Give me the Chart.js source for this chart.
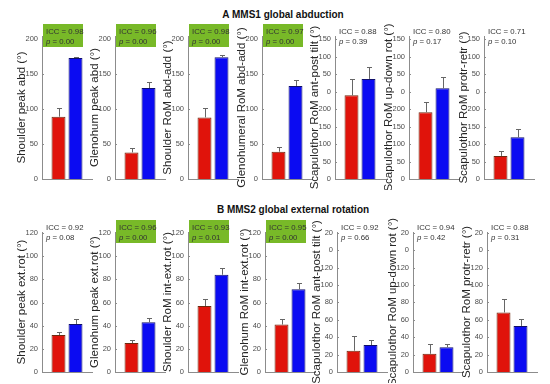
<!DOCTYPE html>
<html>
<head>
<meta charset="utf-8">
<script src="https://cdn.jsdelivr.net/npm/chart.js@4"></script>
<style>
  body { margin: 0; background: #fff; width: 550px; height: 384px; position: relative; overflow: hidden; font-family: "Liberation Sans", Arial, sans-serif; }
  canvas { position: absolute; }
  .ttl { position: absolute; font-weight: bold; font-size: 10px; color: #111; white-space: nowrap; transform: translateX(-50%); }
</style>
</head>
<body>
<div class="ttl" style="left:283px;top:9px">A MMS1 global abduction</div>
<div class="ttl" style="left:293px;top:204px">B MMS2 global external rotation</div>
<script>
// panel A: MMS1 global abduction
var titlesA = ['Shoulder peak abd (°)', 'Glenohum peak abd (°)', 'Shoulder RoM abd-add (°)', 'Glenohumeral RoM abd-add (°)',
  'Scapulothor RoM ant-post tilt (°)', 'Scapulothor RoM up-down rot (°)', 'Scapulothor RoM protr-retr (°)'];
var iccA = ['0.98', '0.96', '0.98', '0.97', '0.88', '0.80', '0.71'];
var pA = ['0.00', '0.00', '0.00', '0.00', '0.39', '0.17', '0.10'];
var sigA = [true, true, true, true, false, false, false];
var redA = [89, 38, 88, 39, 239, 191, 66];
var redErrA = [12, 7, 13, 7, 46, 28, 15];
var blueA = [173, 130, 174, 133, 286, 259, 119];
var blueErrA = [2, 8, 3, 8, 34, 33, 23];

// panel B: MMS2 global external rotation
var titlesB = ['Shoulder peak ext.rot (°)', 'Glenohum peak ext.rot (°)', 'Shoulder RoM int-ext.rot (°)', 'Glenohum RoM int-ext.rot (°)',
  'Scapulothor RoM ant-post tilt (°)', 'Scapulothor RoM up-down rot (°)', 'Scapulothor RoM protr-retr (°)'];
var iccB = ['0.92', '0.96', '0.93', '0.95', '0.92', '0.94', '0.88'];
var pB = ['0.08', '0.00', '0.01', '0.00', '0.66', '0.42', '0.31'];
var sigB = [false, true, true, true, false, false, false];
var redB = [32, 25, 57, 41, 24.5, 21, 68.5];
var redErrB = [2.5, 2.5, 6, 4.5, 17, 11, 15.5];
var blueB = [41.5, 43, 84, 71.5, 31, 28.5, 53];
var blueErrB = [4, 3.5, 6, 5.5, 6, 3.5, 8];

// tick labels as printed on the axes
var ticksA1 = ['0', '50', '100', '150', '200'];
var ticksA2 = ['0', '50', '100', '150', '200', '0', '50', '100', '150'];
var ticksB1 = ['0', '20', '40', '60', '80', '100', '120'];
var ticksB2 = ['0', '20', '40', '60', '80', '100', '120', '0', '20'];

Chart.defaults.font.family = '"Liberation Sans", Arial, sans-serif';

var axisGrey = '#8c8c8c';

var errPlugin = {
  id: 'errbars',
  afterDatasetsDraw: function (chart) {
    var ctx = chart.ctx, y = chart.scales.y;
    ctx.save();
    ctx.strokeStyle = '#666';
    ctx.lineWidth = 1;
    chart.data.datasets.forEach(function (ds, di) {
      chart.getDatasetMeta(di).data.forEach(function (bar, j) {
        var top = Math.round(y.getPixelForValue(ds.data[j] + ds.err[j])) + 0.5;
        var x = Math.round(bar.x) + 0.5;
        ctx.beginPath();
        ctx.moveTo(x, bar.y);
        ctx.lineTo(x, top);
        ctx.moveTo(x - 2.5, top);
        ctx.lineTo(x + 2.5, top);
        ctx.stroke();
      });
    });
    ctx.restore();
  }
};

var iccPlugin = {
  id: 'icc',
  afterDraw: function (chart) {
    var o = chart.options.plugins.icc;
    var ctx = chart.ctx, a = chart.chartArea, y = chart.scales.y;
    ctx.save();
    // small inward ticks
    ctx.strokeStyle = axisGrey;
    ctx.lineWidth = 1;
    y.ticks.forEach(function (t) {
      var py = Math.round(y.getPixelForValue(t.value)) + 0.5;
      ctx.beginPath();
      ctx.moveTo(a.left, py);
      ctx.lineTo(a.left + 2, py);
      ctx.stroke();
    });
    if (o.sig) {
      ctx.fillStyle = '#78b928';
      ctx.fillRect(a.left + 1, a.top - 12, 40, 23);
    }
    ctx.fillStyle = '#333';
    ctx.textBaseline = 'middle';
    ctx.font = '7.8px "Liberation Sans", Arial, sans-serif';
    ctx.fillText('ICC = ' + o.icc, a.left + 4, a.top - 4);
    ctx.font = 'italic 7.8px "Liberation Sans", Arial, sans-serif';
    ctx.fillText('p', a.left + 4, a.top + 6);
    var w = ctx.measureText('p').width;
    ctx.font = '7.8px "Liberation Sans", Arial, sans-serif';
    ctx.fillText(' = ' + o.p, a.left + 4 + w, a.top + 6);
    ctx.restore();
  }
};

function panel(left, top, height, padTop, padBottom, cfg) {
  var c = document.createElement('canvas');
  c.width = 83;
  c.height = height;
  c.style.left = (left - 31) + 'px';
  c.style.top = top + 'px';
  document.body.appendChild(c);
  new Chart(c.getContext('2d'), {
    type: 'bar',
    data: {
      labels: [''],
      datasets: [
        { data: [cfg.red], err: [cfg.redErr], backgroundColor: '#e0130b', borderColor: '#6e2a10', borderWidth: 1 },
        { data: [cfg.blue], err: [cfg.blueErr], backgroundColor: '#0b0bf2', borderColor: '#10106a', borderWidth: 1 }
      ]
    },
    options: {
      responsive: false,
      maintainAspectRatio: false,
      animation: false,
      layout: { padding: { top: padTop, bottom: padBottom, left: 0, right: 2 } },
      datasets: { bar: { categoryPercentage: 0.68, barPercentage: 0.82 } },
      plugins: {
        legend: { display: false },
        tooltip: { enabled: false },
        icc: { icc: cfg.icc, p: cfg.p, sig: cfg.sig }
      },
      scales: {
        x: {
          grid: { display: false },
          ticks: { display: false },
          border: { color: axisGrey },
          afterFit: function (s) { s.height = 0; }
        },
        y: {
          min: 0,
          max: cfg.max,
          grid: { display: false, drawTicks: false },
          border: { color: axisGrey },
          ticks: {
            stepSize: cfg.step,
            includeBounds: false,
            padding: 4,
            color: '#4d4d4d',
            font: { size: 7.5 },
            callback: function (v, i) { return cfg.ticks[i]; }
          },
          title: { display: true, text: cfg.title, color: '#262626', font: { size: 11.5 }, padding: { top: 4, bottom: 0 } },
          afterFit: function (s) { s.width = 31; }
        }
      }
    },
    plugins: [errPlugin, iccPlugin]
  });
}

var axA = [42, 115, 188, 262, 335, 409, 484];
var axB = [42, 115, 188, 265, 337, 413, 487];

for (var i = 0; i < 7; i++) {
  var scap = i >= 4;
  panel(axA[i], 20, 170, 16, 11, {
    title: titlesA[i], icc: iccA[i], p: pA[i], sig: sigA[i],
    red: redA[i], redErr: redErrA[i], blue: blueA[i], blueErr: blueErrA[i],
    max: scap ? 408.6 : 204.3, step: 50, ticks: scap ? ticksA2 : ticksA1
  });
  panel(axB[i], 215, 168, 17, 11, {
    title: titlesB[i], icc: iccB[i], p: pB[i], sig: sigB[i],
    red: redB[i], redErr: redErrB[i], blue: blueB[i], blueErr: blueErrB[i],
    max: scap ? 161 : 120.9, step: 20, ticks: scap ? ticksB2 : ticksB1
  });
}
</script>
</body>
</html>
